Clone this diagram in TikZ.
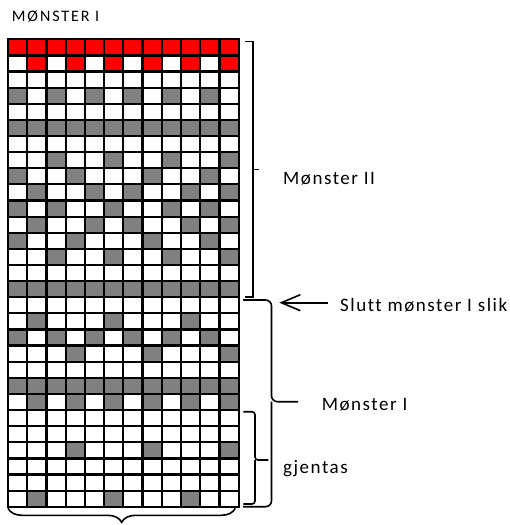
\documentclass[tikz,border=0pt]{standalone}
\usepackage{fontspec}
\setmainfont{Carlito}
\newfontfamily\labelfont[LetterSpace=8, Ligatures=NoCommon]{Carlito}
\newfontfamily\titlefont[LetterSpace=12, Ligatures=NoCommon]{Carlito}
\usepackage{xcolor}
\definecolor{rowred}{rgb}{1,0,0}
\definecolor{rowgray}{rgb}{0.5,0.5,0.5}
\usetikzlibrary{decorations.pathreplacing}
\usetikzlibrary{arrows.meta}
\tikzset{
  gridline/.style={line width=2.2pt, line cap=rect},
  bracket/.style={line width=1.6pt},
  tekst/.style={font=\labelfont\fontsize{19pt}{22pt}\selectfont, inner sep=0pt, anchor=base west},
  titletekst/.style={font=\titlefont\fontsize{16pt}{18pt}\selectfont, inner sep=0pt, anchor=base west},
  pil/.style={line width=1.6pt, -{Straight Barb[length=19pt, width=16pt]}}
}

\begin{document}
\begin{tikzpicture}[x=1pt, y=-1pt]
    \useasboundingbox (0,0) rectangle (509,525);
    \fill[white] (0,0) rectangle (509,525);

    \node[titletekst] (tittel) at (11.7,21.3) {MØNSTER I};

    % the chart, one unit = one stitch
    \begin{scope}[shift={(8,39.3)}, x=19.22pt, y=-16.12pt]
        \foreach \c in {1,...,12} \fill[rowred] (\c-1,0) rectangle (\c,1);
        \foreach \c in {2,4,...,12} \fill[rowred] (\c-1,1) rectangle (\c,2);

        \foreach \r/\cs in {4/{1,3,5,7,9,11}, 6/{1,...,12}, 8/{3,6,9,12}, 9/{1,4,8,11},
                            10/{2,5,7,10,12}, 11/{1,3,6,9,11}, 12/{2,5,7,10,12}, 13/{1,4,8,11},
                            14/{3,6,9,12}, 16/{1,...,12}, 18/{2,6,10}, 19/{1,3,5,7,9,11},
                            20/{4,8,12}, 22/{1,...,12}, 23/{2,4,6,8,10,12}, 26/{4,8,12},
                            29/{2,6,10}}
            \foreach \c in \cs \fill[rowgray] (\c-1,\r-1) rectangle (\c,\r);

        \foreach \i in {0,...,12} \draw[gridline] (\i,0) -- (\i,29);
        \foreach \j in {0,...,29} \draw[gridline] (0,\j) -- (12,\j);
    \end{scope}

    % braces on the right
    \draw[bracket] (245,41.5) -| (252.7,169.5) -- ++(6,0) ++(-6,0) |- (245,297);
    \draw[bracket, rounded corners=6pt] (243,300) -- (271.5,300) -- (271.5,401.7) -- (298,401.7);
    \draw[bracket, rounded corners=6pt] (271.5,401.7) -- (271.5,506.7) -- (243,506.7);
    \draw[bracket, rounded corners=3pt] (243.3,411.7) -- (255,411.7) -- (255,460) -- (268.3,460);
    \draw[bracket, rounded corners=3pt] (255,460) -- (255,504) -- (243.3,504);

    % brace below
    \draw[bracket, decorate, decoration={brace, amplitude=14pt}] (235.3,508.3) -- (8,508.3);

    \node[tekst] (monsterII) at (283,184) {Mønster II};
    \node[tekst] (slutt) at (340,311.7) {Slutt mønster I slik};
    \node[tekst] (monsterI) at (321.7,410) {Mønster I};
    \node[tekst] (gjentas) at (283,473.3) {gjentas};

    \coordinate (pilstart) at (328,302.7);
    \coordinate (pilspiss) at (279.3,302.7);
    \draw[pil] (pilstart) -- (pilspiss);

\end{tikzpicture}
\end{document}
